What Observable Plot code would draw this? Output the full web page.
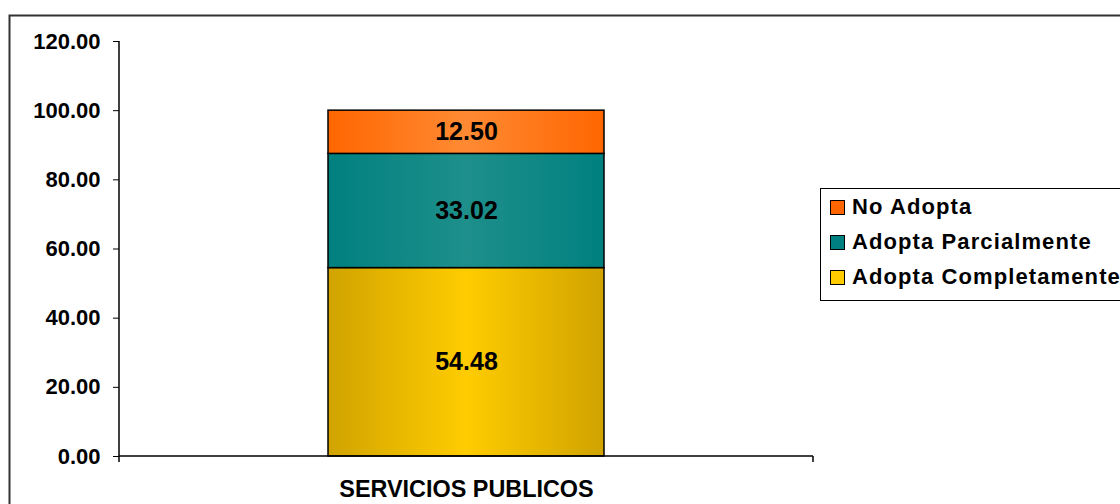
<!DOCTYPE html>
<html>
<head>
<meta charset="utf-8">
<script src="https://cdn.jsdelivr.net/npm/d3@7"></script>
<script src="https://cdn.jsdelivr.net/npm/@observablehq/plot@0.6"></script>
<style>
  html, body { margin: 0; padding: 0; background: white; }
  #wrap { position: relative; width: 1120px; height: 504px; overflow: hidden; font-family: 'Liberation Sans', Arial, sans-serif; font-weight: bold; }
  #legend { position: absolute; left: 820px; top: 188px; width: 340px; height: 113px; border: 1px solid #000; box-sizing: border-box; background: white; }
  .item { position: absolute; left: 9px; height: 24px; display: flex; align-items: center; font-size: 22px; letter-spacing: 1.1px; white-space: nowrap; }
  .sw { width: 13px; height: 13px; border: 1px solid #000; margin-right: 7px; flex: none; }
</style>
</head>
<body>
<div id="wrap"></div>
<script>
// ---- data ----
const categories = ["SERVICIOS PUBLICOS"];
const series = ["Adopta Completamente", "Adopta Parcialmente", "No Adopta"];
const values = [54.48, 33.02, 12.50];
const yTicks = [0, 20, 40, 60, 80, 100, 120];
const legendOrder = ["No Adopta", "Adopta Parcialmente", "Adopta Completamente"];

// ---- styles ----
const gradStops = {
  "Adopta Completamente": ["#D0A300", "#FFCC00"],
  "Adopta Parcialmente": ["#008080", "#1E8F8B"],
  "No Adopta": ["#FF6600", "#FF8A33"]
};
const swatch = {
  "Adopta Completamente": "#FFCC00",
  "Adopta Parcialmente": "#008080",
  "No Adopta": "#FF6600"
};

const data = series.map((s, i) => ({category: categories[0], series: s, value: values[i]}));
const gradId = s => "grad" + series.indexOf(s);

const plot = Plot.plot({
  width: 1120,
  height: 504,
  marginLeft: 119,
  marginRight: 307,
  marginTop: 41,
  marginBottom: 48,
  style: {fontFamily: "'Liberation Sans', Arial, sans-serif", fontWeight: "bold", fontSize: "22px", background: "white", color: "black", overflow: "visible"},
  x: {domain: categories, padding: 0.43, label: null, tickSize: 0, tickPadding: 24},
  y: {domain: [0, 120], label: null, ticks: yTicks, tickFormat: d => d.toFixed(2), tickSize: 6, tickPadding: 13},
  color: {type: "identity"},
  marks: [
    Plot.barY(data, {x: "category", y: "value", fill: d => `url(#${gradId(d.series)})`, stroke: "black", strokeWidth: 1.5, order: null}),
    Plot.text(data, Plot.stackY({x: "category", y: "value", text: d => d.value.toFixed(2), fontSize: 25, fontWeight: "bold", order: null}))
  ]
});

const svg = d3.select(plot);
const defs = svg.insert("defs", ":first-child");
series.forEach(s => {
  const g = defs.append("linearGradient").attr("id", gradId(s)).attr("x1", "0").attr("x2", "1").attr("y1", "0").attr("y2", "0");
  g.append("stop").attr("offset", "0").attr("stop-color", gradStops[s][0]);
  g.append("stop").attr("offset", "0.5").attr("stop-color", gradStops[s][1]);
  g.append("stop").attr("offset", "1").attr("stop-color", gradStops[s][0]);
});

// larger category label
svg.selectAll('g[aria-label="x-axis tick label"]').attr("font-size", "23.4px");
svg.selectAll('g[aria-label="x-axis tick label"] text').attr("font-size", "23.4px");

// axis lines derived from the plot's scales
const xs = plot.scale("x"), ys = plot.scale("y");
const [x0, x1] = xs.range;
const [yb, yt] = ys.range;
const ax = svg.append("g").attr("stroke", "black").attr("stroke-width", 1.5);
ax.append("line").attr("x1", x0).attr("x2", x0).attr("y1", yt).attr("y2", yb + 6);
ax.append("line").attr("x1", x0).attr("x2", x1).attr("y1", yb).attr("y2", yb);
ax.append("line").attr("x1", x1).attr("x2", x1).attr("y1", yb).attr("y2", yb + 6);

// outer chart border
svg.append("rect").attr("x", 9.5).attr("y", 15.5).attr("width", 1200).attr("height", 600)
  .attr("fill", "none").attr("stroke", "#333").attr("stroke-width", 2);

const wrap = document.getElementById("wrap");
wrap.appendChild(plot);

const legend = document.createElement("div");
legend.id = "legend";
legendOrder.forEach((s, i) => {
  const it = document.createElement("div");
  it.className = "item";
  it.style.top = (6 + i * 35) + "px";
  const sw = document.createElement("span");
  sw.className = "sw";
  sw.style.background = swatch[s];
  const t = document.createElement("span");
  t.textContent = s;
  it.appendChild(sw);
  it.appendChild(t);
  legend.appendChild(it);
});
wrap.appendChild(legend);
</script>
</body>
</html>
